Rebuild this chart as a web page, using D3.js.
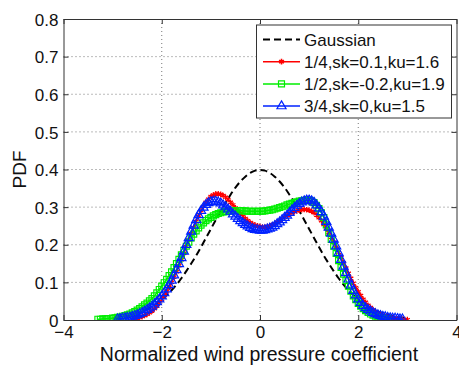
<!DOCTYPE html>
<html>
<head>
<meta charset="utf-8">
<script src="https://cdn.jsdelivr.net/npm/d3@7"></script>
<style>
  body { margin: 0; background: #fff; }
  text { font-family: "Liberation Sans", Arial, sans-serif; fill: #111; }
</style>
</head>
<body>
<svg id="chart" width="459" height="365"></svg>
<script>
// values
// gaussian on a 0.1 grid, measured series on a 0.05 grid
let gaussStep = 0.1;
let seriesStep = 0.05;

let gaussStart = -3.0;
let gaussY = [0.004, 0.006, 0.008, 0.010, 0.014, 0.018, 0.022, 0.028, 0.035, 0.044,
  0.054, 0.066, 0.079, 0.094, 0.111, 0.130, 0.150, 0.171, 0.194, 0.218,
  0.242, 0.266, 0.290, 0.312, 0.333, 0.352, 0.368, 0.381, 0.391, 0.397,
  0.399,
  0.397, 0.391, 0.381, 0.368, 0.352, 0.333, 0.312, 0.290, 0.266, 0.242,
  0.218, 0.194, 0.171, 0.150, 0.130, 0.111, 0.094, 0.079, 0.066, 0.054,
  0.044, 0.035, 0.028, 0.022, 0.018, 0.014, 0.010, 0.008, 0.006, 0.004];

// 1/4 (red), from -2.60
let redStart = -2.6;
let redY = [0.002, 0.003, 0.005, 0.007, 0.009, 0.012, 0.015, 0.019, 0.024, 0.030,
  0.037, 0.045, 0.055, 0.065, 0.075, 0.087, 0.100, 0.114, 0.128, 0.144,
  0.160, 0.177, 0.195, 0.213, 0.230, 0.246, 0.262, 0.277, 0.290, 0.302,
  0.313, 0.321, 0.328, 0.332, 0.335, 0.335, 0.334, 0.331, 0.326, 0.320,
  0.313, 0.306, 0.298, 0.290, 0.283, 0.276, 0.270, 0.264, 0.259, 0.255,
  0.252, 0.250, 0.248, 0.247, 0.247, 0.248, 0.250, 0.253, 0.256, 0.260,
  0.264, 0.268, 0.273, 0.277, 0.281, 0.285, 0.288, 0.290, 0.292, 0.293,
  0.294, 0.293, 0.292, 0.289, 0.285, 0.279, 0.272, 0.264, 0.254, 0.243,
  0.232, 0.220, 0.207, 0.194, 0.180, 0.166, 0.152, 0.138, 0.124, 0.111,
  0.098, 0.086, 0.075, 0.065, 0.055, 0.047, 0.039, 0.033, 0.027, 0.022,
  0.018, 0.015, 0.012, 0.010, 0.008, 0.006, 0.005, 0.004, 0.003, 0.002,
  0.002, 0.001, 0.001];

// 1/2 (green), from -3.30
let greenStart = -3.3;
let greenY = [0.002, 0.002, 0.003, 0.003, 0.004, 0.004, 0.005, 0.006, 0.007, 0.008,
  0.010, 0.012, 0.014, 0.016, 0.019, 0.022, 0.026, 0.030, 0.035, 0.040,
  0.045, 0.051, 0.057, 0.064, 0.072, 0.081, 0.090, 0.099, 0.108, 0.118,
  0.128, 0.139, 0.150, 0.161, 0.173, 0.185, 0.196, 0.207, 0.218, 0.228,
  0.237, 0.245, 0.252, 0.258, 0.264, 0.269, 0.273, 0.277, 0.280, 0.283,
  0.285, 0.287, 0.288, 0.289, 0.290, 0.291, 0.291, 0.291, 0.291, 0.290,
  0.290, 0.289, 0.289, 0.289, 0.289, 0.289, 0.289, 0.289, 0.290, 0.291,
  0.292, 0.293, 0.295, 0.297, 0.299, 0.301, 0.303, 0.306, 0.308, 0.310,
  0.312, 0.314, 0.316, 0.317, 0.318, 0.319, 0.318, 0.316, 0.312, 0.305,
  0.296, 0.285, 0.272, 0.253, 0.232, 0.214, 0.196, 0.177, 0.158, 0.140,
  0.122, 0.105, 0.090, 0.077, 0.064, 0.054, 0.044, 0.037, 0.030, 0.025,
  0.020, 0.016, 0.013, 0.010, 0.008, 0.006, 0.005, 0.004, 0.003];

// 3/4 (blue), from -2.90
let blueStart = -2.9;
let blueY = [0.002, 0.003, 0.004, 0.005, 0.006, 0.007, 0.009, 0.011, 0.013, 0.016,
  0.019, 0.023, 0.027, 0.031, 0.036, 0.042, 0.048, 0.055, 0.063, 0.072,
  0.082, 0.093, 0.105, 0.119, 0.133, 0.149, 0.165, 0.182, 0.200, 0.218,
  0.235, 0.251, 0.266, 0.279, 0.290, 0.299, 0.306, 0.311, 0.314, 0.315,
  0.315, 0.313, 0.310, 0.305, 0.300, 0.294, 0.288, 0.281, 0.275, 0.269,
  0.263, 0.258, 0.253, 0.249, 0.245, 0.242, 0.240, 0.239, 0.238, 0.238,
  0.239, 0.241, 0.243, 0.246, 0.250, 0.255, 0.260, 0.266, 0.272, 0.278,
  0.285, 0.292, 0.298, 0.304, 0.309, 0.313, 0.316, 0.318, 0.318, 0.316,
  0.312, 0.305, 0.297, 0.287, 0.275, 0.261, 0.246, 0.230, 0.214, 0.196,
  0.178, 0.160, 0.142, 0.125, 0.108, 0.092, 0.078, 0.066, 0.055, 0.046,
  0.038, 0.032, 0.027, 0.023, 0.019, 0.016, 0.013, 0.011, 0.009, 0.008,
  0.006, 0.005, 0.004, 0.004, 0.003, 0.002, 0.002];

let xTicks = [-4, -2, 0, 2, 4];
let yTicks = [0, 0.1, 0.2, 0.3, 0.4, 0.5, 0.6, 0.7, 0.8];
let legendLabels = ['Gaussian', '1/4,sk=0.1,ku=1.6', '1/2,sk=-0.2,ku=1.9', '3/4,sk=0,ku=1.5'];

function toPoints(start, step, ys) {
  return ys.map(function(y, i) { return [+(start + i * step).toFixed(2), y]; });
}

let series = [
  { name: legendLabels[1], color: '#ff0000', sym: 'star', data: toPoints(redStart, seriesStep, redY) },
  { name: legendLabels[2], color: '#00ee00', sym: 'square', data: toPoints(greenStart, seriesStep, greenY) },
  { name: legendLabels[3], color: '#0022ff', sym: 'tri', data: toPoints(blueStart, seriesStep, blueY) }
];
let gauss = toPoints(gaussStart, gaussStep, gaussY);

let svg = d3.select('#chart');
let pLeft = 63.5, pRight = 456.5, pTop = 19, pBottom = 320;

let x = d3.scaleLinear().domain([-4, 4]).range([pLeft, pRight]);
let y = d3.scaleLinear().domain([0, 0.8]).range([pBottom, pTop]);

svg.append('defs').append('clipPath').attr('id', 'clip')
  .append('rect').attr('x', pLeft).attr('y', pTop - 4)
  .attr('width', pRight - pLeft).attr('height', pBottom - pTop + 4);

// dotted grid
let grid = svg.append('g');
grid.selectAll('.gx').data(xTicks.slice(1, -1)).enter().append('line')
  .attr('x1', d => x(d)).attr('x2', d => x(d))
  .attr('y1', pTop).attr('y2', pBottom)
  .attr('stroke', '#777').attr('stroke-dasharray', '1,3');
grid.selectAll('.gy').data(yTicks.slice(1, -1)).enter().append('line')
  .attr('y1', d => y(d)).attr('y2', d => y(d))
  .attr('x1', pLeft).attr('x2', pRight)
  .attr('stroke', '#777').attr('stroke-dasharray', '1,3');

let line = d3.line().x(d => x(d[0])).y(d => y(d[1])).curve(d3.curveMonotoneX);

let plot = svg.append('g').attr('clip-path', 'url(#clip)');

plot.append('path').datum(gauss)
  .attr('d', line).attr('fill', 'none')
  .attr('stroke', '#000').attr('stroke-width', 2)
  .attr('stroke-dasharray', '7,4');

let symStar = d3.symbol().type(d3.symbolAsterisk).size(22);
let symSquare = d3.symbol().type(d3.symbolSquare).size(36);
let symTri = d3.symbol().type(d3.symbolTriangle).size(36);
function symPath(s) {
  return s === 'star' ? symStar() : s === 'square' ? symSquare() : symTri();
}

series.forEach(function(s) {
  plot.append('path').datum(s.data)
    .attr('d', line).attr('fill', 'none')
    .attr('stroke', s.color).attr('stroke-width', 1.5);
  plot.selectAll(null).data(s.data).enter().append('path')
    .attr('d', symPath(s.sym))
    .attr('transform', d => 'translate(' + x(d[0]) + ',' + y(d[1]) + ')')
    .attr('fill', 'none').attr('stroke', s.color)
    .attr('stroke-width', s.sym === 'star' ? 1.3 : 1.2);
});

// axes, matlab style box with inward ticks
let fmtY = d => d === 0 ? '0' : d3.format('.1f')(d);
let axB = svg.append('g').attr('transform', 'translate(0,' + pBottom + ')')
  .call(d3.axisBottom(x).tickValues(xTicks).tickSize(-5).tickPadding(6).tickSizeOuter(0));
let axT = svg.append('g').attr('transform', 'translate(0,' + pTop + ')')
  .call(d3.axisTop(x).tickValues(xTicks).tickSize(-5).tickFormat('').tickSizeOuter(0));
let axL = svg.append('g').attr('transform', 'translate(' + pLeft + ',0)')
  .call(d3.axisLeft(y).tickValues(yTicks).tickSize(-5).tickPadding(5).tickFormat(fmtY).tickSizeOuter(0));
let axR = svg.append('g').attr('transform', 'translate(' + pRight + ',0)')
  .call(d3.axisRight(y).tickValues(yTicks).tickSize(-5).tickFormat('').tickSizeOuter(0));

[axB, axT, axL, axR].forEach(function(a) {
  a.selectAll('path, line').attr('stroke', '#333');
  a.selectAll('text').style('font-size', '17px').attr('fill', '#111');
});
axL.selectAll('text').attr('dy', '0.36em');

// axis titles
svg.append('text').attr('x', (pLeft + pRight) / 2 - 1).attr('y', 361)
  .attr('text-anchor', 'middle').style('font-size', '19.5px')
  .text('Normalized wind pressure coefficient');
svg.append('text')
  .attr('transform', 'translate(26,' + ((pTop + pBottom) / 2) + ') rotate(-90)')
  .attr('text-anchor', 'middle').style('font-size', '19px')
  .text('PDF');

// legend
let lg = svg.append('g');
lg.append('rect').attr('x', 256.5).attr('y', 25).attr('width', 195).attr('height', 93)
  .attr('fill', '#fff').attr('stroke', '#333').attr('stroke-width', 1);
let legItems = [{ name: legendLabels[0], color: '#000', sym: null }].concat(series);
legItems.forEach(function(s, i) {
  let ly = 39.5 + i * 22.2;
  let l = lg.append('line').attr('x1', 263).attr('x2', 300).attr('y1', ly).attr('y2', ly)
    .attr('stroke', s.color).attr('stroke-width', s.sym ? 1.5 : 2);
  if (!s.sym) l.attr('stroke-dasharray', '7,4');
  if (s.sym) {
    lg.append('path').attr('d', symPath(s.sym))
      .attr('transform', 'translate(281.5,' + ly + ')')
      .attr('fill', s.sym === 'star' ? s.color : 'none')
      .attr('stroke', s.color).attr('stroke-width', s.sym === 'star' ? 1.6 : 1.2);
  }
  lg.append('text').attr('x', 304).attr('y', ly).attr('dy', '0.36em')
    .style('font-size', '17px').text(s.name);
});
</script>
</body>
</html>
